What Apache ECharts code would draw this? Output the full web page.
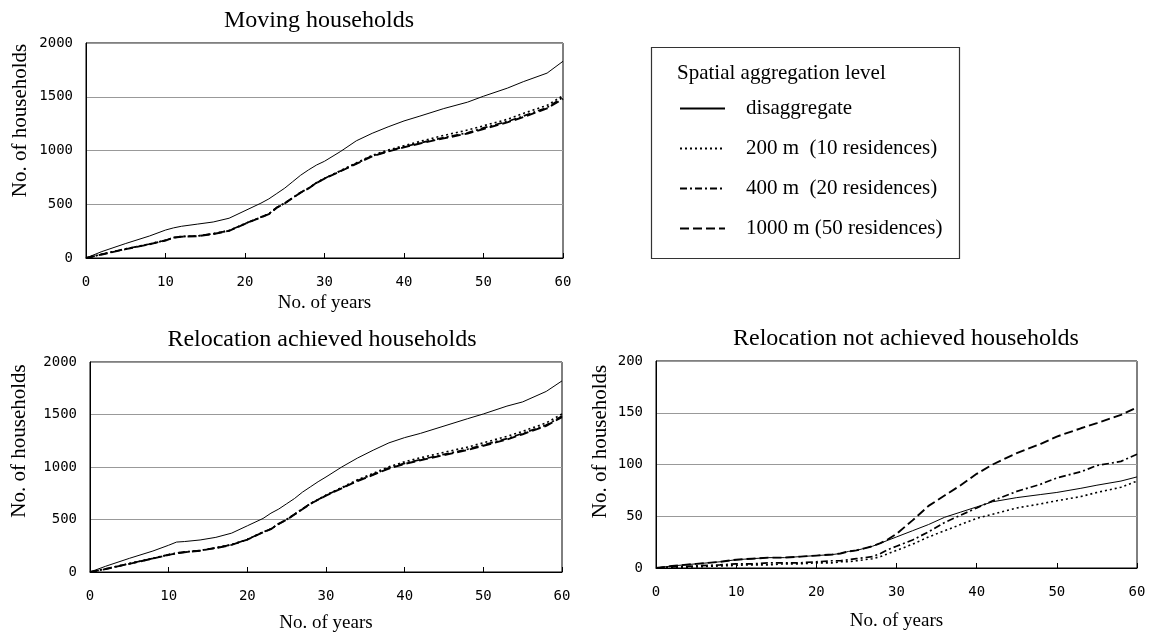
<!DOCTYPE html>
<html>
<head>
<meta charset="utf-8">
<title>Households</title>
<script src="https://cdn.jsdelivr.net/npm/echarts@6/dist/echarts.min.js"></script>
<style>
  body { margin: 0; background: #fff; }
  #main { width: 1157px; height: 634px; }
</style>
</head>
<body>
<div id="main"></div>
<script>
var years = [0,2,5,8,10,11,12,14,16,18,20,22,23,24,25,26,27,28,29,30,32,34,36,38,40,42,45,48,50,53,55,58,60];

var seriesNames = ['disaggregate', '200 m  (10 residences)', '400 m  (20 residences)', '1000 m (50 residences)'];

// Moving households
var movDis  = [0,60,135,205,260,280,295,315,335,370,440,510,550,600,650,710,770,820,865,900,990,1090,1160,1220,1275,1320,1390,1450,1505,1580,1640,1720,1830];
var mov200  = [0,35,85,130,165,190,200,205,225,255,320,380,410,470,510,560,610,650,700,740,812,885,955,1005,1045,1085,1140,1190,1230,1290,1345,1420,1510];
var mov400  = [0,35,85,130,165,190,200,205,225,255,320,380,410,470,510,560,610,650,700,740,810,880,950,995,1035,1070,1120,1165,1210,1270,1320,1400,1495];
var mov1000 = [0,33,82,128,163,188,198,203,223,253,318,378,408,468,508,558,608,648,698,738,806,876,945,990,1030,1065,1113,1158,1200,1262,1310,1392,1480];

// Relocation achieved households
var achDis  = [0,55,130,200,255,285,290,305,330,370,440,510,560,600,650,700,760,810,860,905,1000,1085,1160,1230,1280,1320,1390,1460,1505,1580,1620,1720,1820];
var ach200  = [0,30,80,130,165,180,190,205,230,260,310,380,410,460,500,550,600,650,690,732,805,878,940,1002,1050,1088,1140,1190,1230,1292,1340,1420,1505];
var ach400  = [0,30,80,130,165,180,190,205,230,260,310,380,410,460,500,550,600,650,690,730,800,870,930,990,1035,1070,1120,1170,1210,1270,1320,1400,1485];
var ach1000 = [0,28,78,128,163,178,188,203,228,258,308,378,408,458,498,548,598,648,688,728,797,866,925,985,1030,1064,1113,1162,1202,1262,1312,1392,1475];

// Relocation not achieved households
var notDis  = [0,2,4,6,8,8.5,9,10,10,11,12,13,14,16,17,19,21,24,27,30,36,42,49,54,59,64,68,71,73,77,80,84,88];
var not200  = [0,0.5,1,2,2.5,3,3,3,4,4,5,5,6,6,7,8,9,11,14,17,23,30,36,42,48,52,58,62,65,69,73,78,84];
var not400  = [0,1,2,3,4,4,4,5,5,5,6,7,7,8,9,10,11,14,18,21,27,35,44,51,58,65,74,81,87,93,99,103,110];
var not1000 = [0,2,4,6,8,8.5,9,10,10,11,12,13,14,16,17,19,21,24,28,33,46,60,70,80,91,100,111,120,127,135,140,148,155];

var serif = 'Liberation Serif';
var tickFont = 'DejaVu Sans Mono';

function pairs(arr) {
  return years.map(function (y, i) { return [y, arr[i]]; });
}

var styles = [
  { width: 1, type: 'solid' },
  { width: 1.6, type: [2, 3] },
  { width: 1.7, type: [7, 3, 2, 3] },
  { width: 1.9, type: [9, 4] }
];

function lines(idx, arrs) {
  return arrs.map(function (a, k) {
    return {
      name: seriesNames[k],
      type: 'line',
      xAxisIndex: idx,
      yAxisIndex: idx,
      data: pairs(a),
      symbol: 'none',
      animation: false,
      lineStyle: { color: '#000', width: styles[k].width, type: styles[k].type },
      itemStyle: { color: '#000' }
    };
  });
}

function plain(v) { return String(v); }

function xAx(idx, gap) {
  return {
    gridIndex: idx,
    type: 'value',
    min: 0, max: 60, interval: 10,
    name: 'No. of years',
    nameLocation: 'middle',
    nameGap: gap,
    nameTextStyle: { fontFamily: serif, fontSize: 19, color: '#000' },
    axisLine: { lineStyle: { color: '#000' } },
    axisTick: { inside: true, length: 5, lineStyle: { color: '#000' } },
    axisLabel: { fontFamily: tickFont, fontSize: 14, color: '#000', margin: 17, formatter: plain },
    splitLine: { show: false }
  };
}

// name is pushed toward the top of the axis, as in the picture
function yAx(idx, max, interval, gap, lift) {
  return {
    gridIndex: idx,
    type: 'value',
    min: 0, max: max, interval: interval,
    name: 'No. of households',
    nameLocation: 'middle',
    nameRotate: 90,
    nameGap: gap,
    nameTextStyle: { fontFamily: serif, fontSize: 21, color: '#000', padding: [0, 0, 0, lift] },
    axisLine: { lineStyle: { color: '#000' } },
    axisTick: { show: false },
    axisLabel: { fontFamily: tickFont, fontSize: 14, color: '#000', margin: 13, formatter: plain },
    splitLine: { lineStyle: { color: '#999', width: 1 } }
  };
}

var titleStyle = { fontFamily: serif, fontSize: 24, fontWeight: 'normal', color: '#000' };

var chart = echarts.init(document.getElementById('main'));

var option = {
  backgroundColor: '#fff',
  animation: false,
  title: [
    { text: 'Moving households', left: 314, top: 4, textAlign: 'center', textStyle: titleStyle },
    { text: 'Relocation achieved households', left: 317, top: 323, textAlign: 'center', textStyle: titleStyle },
    { text: 'Relocation not achieved households', left: 901, top: 322, textAlign: 'center', textStyle: titleStyle }
  ],
  legend: {
    orient: 'vertical',
    left: 674,
    top: 93,
    itemWidth: 45,
    itemHeight: 16,
    itemGap: 19,
    data: seriesNames,
    itemStyle: { opacity: 0 },
    textStyle: { fontFamily: serif, fontSize: 21, color: '#000', padding: [0, 0, 0, 16] },
    selectedMode: false
  },
  graphic: [
    { type: 'rect', left: 649, top: 45, shape: { width: 308, height: 211 },
      style: { fill: 'none', stroke: '#333', lineWidth: 1.2 } },
    { type: 'text', left: 677, top: 63,
      style: { text: 'Spatial aggregation level', font: '21px "Liberation Serif"', fill: '#000' } }
  ],
  grid: [
    { left: 86, top: 43, width: 477, height: 215, show: true, borderColor: '#000', borderWidth: 1 },
    { left: 90, top: 362, width: 472, height: 211, show: true, borderColor: '#000', borderWidth: 1 },
    { left: 656, top: 361, width: 481, height: 207, show: true, borderColor: '#000', borderWidth: 1 }
  ],
  xAxis: [xAx(0, 36), xAx(1, 42), xAx(2, 44)],
  yAxis: [yAx(0, 2000, 500, 55, 60), yAx(1, 2000, 500, 60, 52), yAx(2, 200, 50, 45, 46)],
  series: []
    .concat(lines(0, [movDis, mov200, mov400, mov1000]))
    .concat(lines(1, [achDis, ach200, ach400, ach1000]))
    .concat(lines(2, [notDis, not200, not400, not1000]))
};

chart.setOption(option);
</script>
</body>
</html>
